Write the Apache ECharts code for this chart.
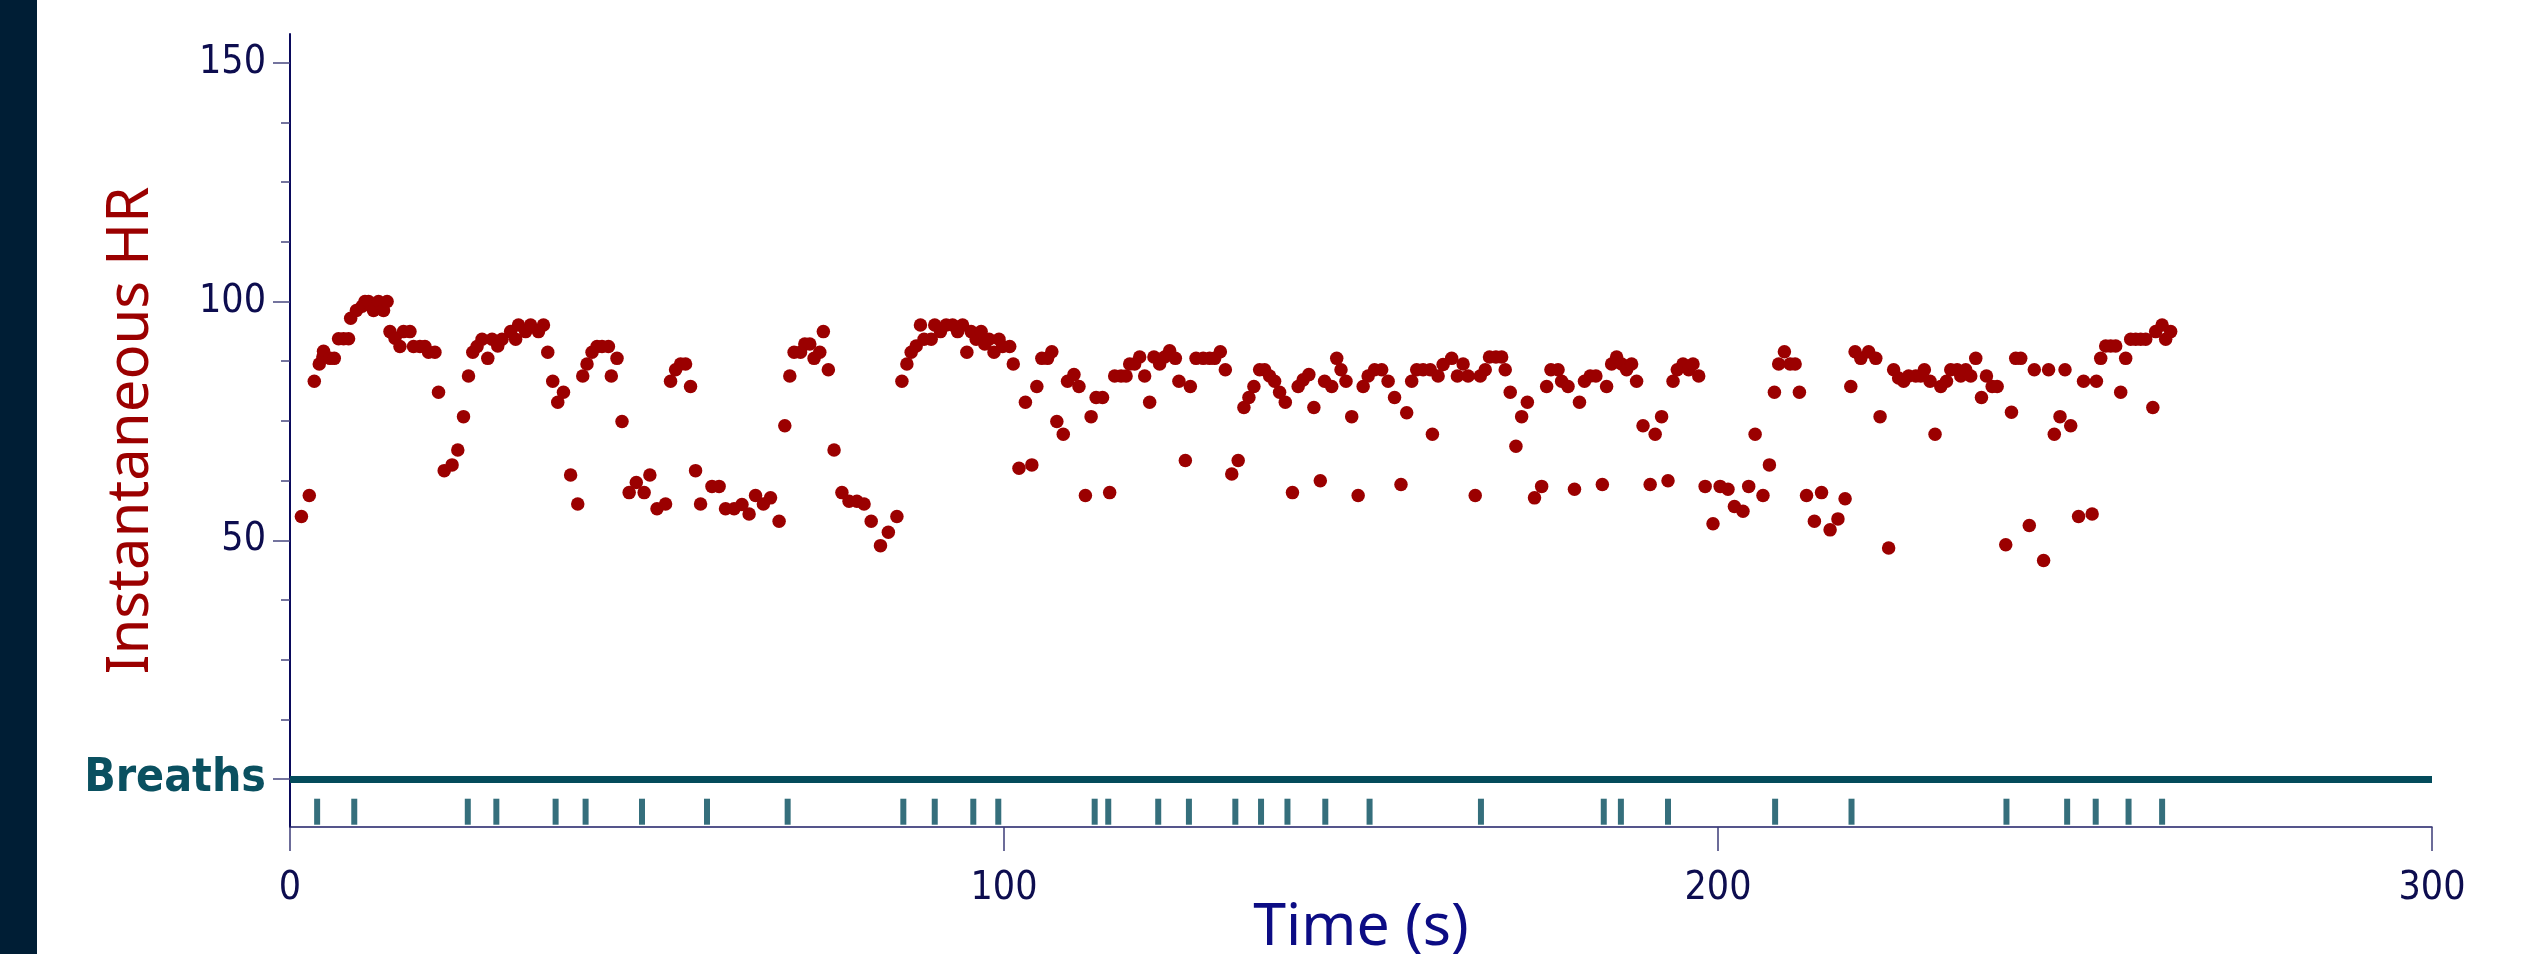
<!DOCTYPE html>
<html>
<head>
<meta charset="utf-8">
<script src="https://cdn.jsdelivr.net/npm/echarts@6/dist/echarts.min.js"></script>
<style>
  html, body { margin: 0; padding: 0; background: #ffffff; }
  #chart { width: 2527px; height: 954px; }
</style>
</head>
<body>
<div id="chart"></div>
<script>
// instantaneous heart rate, one dot per beat (time in s, value in bpm)
const hrTime = [
  1.6, 2.7, 3.4, 4.1, 4.6, 4.7, 5.6, 6.2, 6.8, 7.5, 8.2, 8.5, 9.3, 10.1, 10.5, 11.0, 11.7, 12.4, 13.1, 13.6,
  14.0, 14.7, 15.4, 15.9, 16.8, 17.3, 18.2, 18.9, 19.4, 20.3, 20.8, 21.6, 22.7, 23.5, 24.3, 25.0, 25.6, 26.2, 26.9, 27.7,
  28.3, 29.1, 29.7, 30.9, 31.6, 32.0, 33.0, 33.7, 34.8, 35.5, 36.1, 36.8, 37.5, 38.3, 39.3, 40.3, 41.0, 41.6, 42.3, 43.0,
  43.7, 44.6, 45.0, 45.8, 46.5, 47.5, 48.5, 49.6, 50.4, 51.4, 52.6, 53.3, 54.0, 54.7, 55.4, 56.1, 56.8, 57.5, 59.1, 60.1,
  61.0, 62.2, 63.3, 64.3, 65.2, 66.3, 67.3, 68.5, 69.3, 70.0, 70.6, 71.5, 72.1, 72.8, 73.4, 74.2, 74.7, 75.4, 76.2, 77.3,
  78.3, 79.4, 80.4, 81.4, 82.7, 83.8, 85.0, 85.7, 86.4, 87.0, 87.7, 88.3, 88.8, 89.8, 90.3, 91.1, 91.9, 92.8, 93.5, 94.2,
  94.8, 95.4, 96.1, 96.8, 97.3, 97.9, 98.6, 99.3, 99.8, 100.8, 101.3, 102.1, 103.0, 103.9, 104.6, 105.3, 106.1, 106.7, 107.4, 108.3,
  108.9, 109.8, 110.5, 111.4, 112.2, 112.9, 113.8, 114.8, 115.5, 116.4, 117.1, 117.6, 118.3, 119.0, 119.7, 120.4, 121.0, 121.8, 122.5, 123.2,
  124.0, 124.5, 125.4, 126.1, 126.9, 127.9, 128.8, 129.5, 130.3, 131.0, 131.9, 132.8, 133.6, 134.3, 135.0, 135.8, 136.5, 137.2, 137.9, 138.6,
  139.4, 140.4, 141.2, 141.9, 142.7, 143.4, 144.3, 144.9, 145.9, 146.6, 147.2, 147.9, 148.7, 149.6, 150.3, 151.0, 151.9, 152.9, 153.8, 154.7,
  155.6, 156.4, 157.1, 157.8, 158.7, 159.7, 160.0, 160.8, 161.5, 162.7, 163.5, 164.3, 165.0, 166.0, 166.7, 167.4, 168.0, 168.9, 169.7, 170.2,
  170.9, 171.7, 172.5, 173.3, 174.3, 175.3, 176.0, 176.6, 177.6, 178.1, 179.0, 179.9, 180.6, 181.3, 182.1, 182.9, 183.8, 184.4, 185.1, 185.8,
  186.5, 187.2, 187.9, 188.6, 189.5, 190.5, 191.2, 192.1, 193.0, 193.7, 194.3, 195.1, 195.9, 196.5, 197.3, 198.2, 199.3, 200.3, 201.4, 202.3,
  203.5, 204.3, 205.2, 206.3, 207.2, 207.9, 208.5, 209.3, 210.1, 210.8, 211.4, 212.4, 213.5, 214.5, 215.7, 216.8, 217.8, 218.6, 219.2, 220.0,
  221.1, 222.1, 222.7, 223.9, 224.6, 225.3, 226.0, 226.7, 227.7, 228.4, 228.9, 229.7, 230.4, 231.2, 232.0, 232.6, 233.5, 234.0, 234.7, 235.4,
  236.1, 236.9, 237.6, 238.4, 239.1, 240.3, 241.1, 241.7, 242.4, 243.6, 244.3, 245.6, 246.3, 247.1, 247.9, 248.6, 249.4, 250.5, 251.2, 252.4,
  253.0, 253.6, 254.3, 255.0, 255.7, 256.4, 257.1, 257.8, 258.5, 259.2, 259.9, 260.9, 261.3, 262.2, 262.7, 263.4
];
const hrValue = [
  55.0, 59.4, 83.3, 86.9, 88.4, 89.6, 88.1, 88.1, 92.2, 92.2, 92.2, 96.5, 98.1, 99.0, 100, 100, 98.1, 100, 98.1, 100,
  93.7, 92.3, 90.6, 93.7, 93.7, 90.6, 90.6, 90.6, 89.4, 89.4, 81.0, 64.6, 65.8, 68.9, 75.9, 84.4, 89.4, 90.6, 92.1, 88.1,
  92.1, 90.7, 92.1, 93.7, 92.1, 95.1, 93.7, 95.1, 93.7, 95.1, 89.4, 83.3, 78.9, 81.0, 63.7, 57.6, 84.4, 86.9, 89.4, 90.6,
  90.6, 90.6, 84.4, 88.1, 74.9, 60.0, 62.1, 60.0, 63.7, 56.6, 57.6, 83.3, 85.7, 86.9, 86.9, 82.2, 64.6, 57.6, 61.3, 61.3,
  56.6, 56.6, 57.5, 55.5, 59.4, 57.6, 58.9, 54.0, 74.0, 84.4, 89.4, 89.4, 91.1, 91.1, 88.1, 89.4, 93.7, 85.7, 68.9, 60.0,
  58.2, 58.2, 57.6, 54.0, 48.9, 51.7, 55.0, 83.3, 86.9, 89.4, 90.7, 95.1, 92.1, 92.1, 95.1, 93.7, 95.1, 95.1, 93.7, 95.1,
  89.4, 93.7, 92.1, 93.7, 91.1, 92.1, 89.4, 92.1, 90.6, 90.6, 86.9, 65.1, 78.9, 65.8, 82.2, 88.1, 88.1, 89.5, 74.9, 72.2,
  83.3, 84.7, 82.2, 59.4, 75.9, 79.9, 79.9, 60.0, 84.4, 84.4, 84.4, 86.9, 86.9, 88.4, 84.4, 78.9, 88.4, 86.9, 88.4, 89.7,
  88.1, 83.3, 66.7, 82.2, 88.1, 88.1, 88.1, 88.1, 89.5, 85.7, 63.9, 66.7, 77.8, 79.9, 82.2, 85.7, 85.7, 84.4, 83.3, 81.0,
  78.9, 60.0, 82.2, 83.6, 84.7, 77.8, 62.5, 83.3, 82.2, 88.1, 85.7, 83.3, 75.9, 59.4, 82.2, 84.4, 85.7, 85.7, 83.3, 79.9,
  61.7, 76.7, 83.3, 85.7, 85.7, 85.7, 72.2, 84.4, 86.8, 88.1, 84.4, 86.9, 84.4, 59.4, 84.4, 85.7, 88.4, 88.4, 88.4, 85.7,
  81.0, 69.7, 75.9, 78.9, 58.9, 61.3, 82.2, 85.7, 85.7, 83.3, 82.2, 60.7, 78.9, 83.3, 84.4, 84.4, 61.7, 82.2, 86.9, 88.4,
  86.9, 85.7, 86.9, 83.3, 74.0, 61.7, 72.2, 75.9, 62.5, 83.3, 85.7, 86.9, 85.7, 86.9, 84.4, 61.3, 53.5, 61.3, 60.7, 57.1,
  56.1, 61.3, 72.2, 59.4, 65.8, 81.0, 86.9, 89.5, 86.9, 86.9, 81.0, 59.4, 54.0, 60.0, 52.2, 54.5, 58.7, 82.2, 89.5, 88.1,
  89.5, 88.1, 75.9, 48.4, 85.7, 84.0, 83.3, 84.4, 84.4, 84.4, 85.7, 83.3, 72.2, 82.2, 83.3, 85.7, 85.7, 84.4, 85.7, 84.4,
  88.1, 79.9, 84.4, 82.2, 82.2, 49.1, 76.8, 88.1, 88.1, 53.1, 85.7, 45.8, 85.7, 72.2, 75.9, 85.7, 74.0, 55.0, 83.3, 55.5,
  83.3, 88.1, 90.7, 90.7, 90.7, 81.0, 88.1, 92.1, 92.1, 92.1, 92.1, 77.8, 93.7, 95.1, 92.1, 93.7
];

// breath onsets (s)
const breathTimes = [
  3.8, 9.0, 24.9, 28.9, 37.2, 41.4, 49.3, 58.4, 69.7, 85.9, 90.3, 95.7, 99.2, 112.7, 114.6, 121.6, 125.9,
  132.4, 136.0, 139.7, 145.0, 151.2, 166.8, 184.0, 186.4, 193.0, 208.0, 218.7, 240.4, 248.9, 252.9, 257.5, 262.2
];

const yLabelValues = [0, 50, 100, 150];
const yMinorValues = [12.5, 25, 37.5, 62.5, 75, 87.5, 112.5, 125, 137.5];
const xTickValues = [0, 100, 200, 300];

const BREATH_ROW = -6.8;   // where the breath marks sit under the baseline
const RED = '#9b0000';
const TEAL = '#034b5b';
const NAVY = '#0d0d4f';
const NUM_FONT = '"DejaVu Sans Condensed", "DejaVu Sans", sans-serif';

const hrData = hrTime.map((t, i) => [t, hrValue[i]]);
const breathData = breathTimes.map(t => [t, BREATH_ROW]);

const chart = echarts.init(document.getElementById('chart'));

const option = {
  animation: false,
  backgroundColor: '#ffffff',
  graphic: [
    {
      type: 'rect',
      left: 0,
      top: 0,
      shape: { width: 37, height: 954 },
      style: { fill: '#001e35' },
      silent: true
    }
  ],
  grid: {
    left: 290,
    right: 95,
    top: 34,
    bottom: 127,
    outerBoundsMode: 'none'
  },
  xAxis: {
    type: 'value',
    min: 0,
    max: 300,
    interval: 100,
    name: 'Time (s)',
    nameLocation: 'middle',
    nameGap: 72,
    nameMoveOverlap: false,
    nameTextStyle: {
      fontFamily: '"Noto Sans", sans-serif',
      fontSize: 59,
      color: '#0c0c84'
    },
    axisLine: { show: true, onZero: false, lineStyle: { color: '#1e1e66', width: 1.5 } },
    axisTick: {
      show: true,
      length: 24,
      customValues: xTickValues,
      lineStyle: { color: '#3c3c78', width: 1.5 }
    },
    axisLabel: {
      customValues: xTickValues,
      margin: 42,
      fontFamily: NUM_FONT,
      fontSize: 39,
      color: NAVY
    },
    splitLine: { show: false }
  },
  yAxis: [
    {
      type: 'value',
      min: -10,
      max: 156,
      position: 'left',
      name: 'Instantaneous HR',
      nameLocation: 'middle',
      nameGap: 130,
      nameMoveOverlap: false,
      nameTextStyle: {
        fontFamily: '"Noto Sans", sans-serif',
        fontSize: 58,
        color: RED
      },
      axisLine: { show: true, onZero: false, lineStyle: { color: '#0a0a5c', width: 2 } },
      axisTick: {
        show: true,
        length: 17,
        customValues: yLabelValues,
        lineStyle: { color: '#47477f', width: 1.5 }
      },
      axisLabel: {
        customValues: yLabelValues,
        margin: 24,
        fontFamily: NUM_FONT,
        fontSize: 39,
        color: NAVY,
        formatter: v => (v === 0 ? '{b|Breaths}' : String(v)),
        rich: {
          b: {
            fontFamily: NUM_FONT,
            fontWeight: 'bold',
            fontSize: 46,
            color: '#0a5060'
          }
        }
      },
      splitLine: { show: false }
    },
    {
      type: 'value',
      min: -10,
      max: 156,
      position: 'left',
      axisLine: { show: false, onZero: false },
      axisTick: {
        show: true,
        length: 9,
        customValues: yMinorValues,
        lineStyle: { color: '#47477f', width: 1.5 }
      },
      axisLabel: { show: false },
      splitLine: { show: false }
    }
  ],
  series: [
    {
      name: 'Breaths',
      type: 'scatter',
      symbol: 'rect',
      symbolSize: [6, 26],
      itemStyle: { color: TEAL },
      data: breathData,
      silent: true,
      markLine: {
        silent: true,
        symbol: ['none', 'none'],
        label: { show: false },
        lineStyle: { color: TEAL, width: 7, type: 'solid' },
        data: [{ yAxis: 0 }]
      }
    },
    {
      name: 'Instantaneous HR',
      type: 'scatter',
      symbolSize: 13.5,
      itemStyle: { color: RED, opacity: 1 },
      data: hrData,
      silent: true
    }
  ]
};

chart.setOption(option);
</script>
</body>
</html>
